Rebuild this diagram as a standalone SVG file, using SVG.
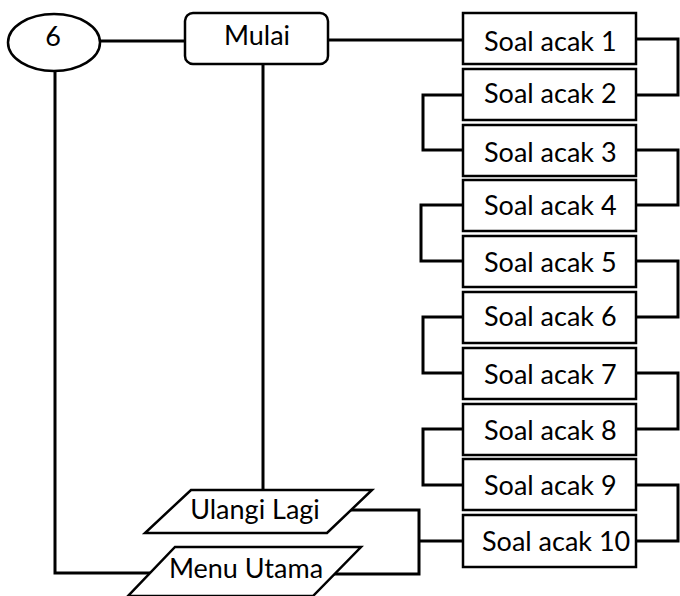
<svg xmlns="http://www.w3.org/2000/svg" width="680" height="596" viewBox="0 0 680 596">
<style>
.shape{fill:#fff;stroke:#000;stroke-width:2.5}
.conn{fill:none;stroke:#000;stroke-width:3}
.t{font-family:Lato,"Open Sans","Liberation Sans",sans-serif;font-size:27px;fill:#000}
.m{text-anchor:middle}
</style>
<rect width="680" height="596" fill="#fff"/>
<g id="connectors">
<path class="conn" d="M100,41 H185"/>
<path class="conn" d="M328,40 H463"/>
<path class="conn" d="M263,64 V490"/>
<path class="conn" d="M55,71 V573 H150"/>
<path class="conn" d="M636,39 H678 V95 H636"/>
<path class="conn" d="M636,150 H678 V205 H636"/>
<path class="conn" d="M636,261 H678 V317 H636"/>
<path class="conn" d="M636,373 H678 V429 H636"/>
<path class="conn" d="M636,485 H678 V541 H636"/>
<path class="conn" d="M463,95 H423 V150 H463"/>
<path class="conn" d="M463,205 H421 V261 H463"/>
<path class="conn" d="M463,317 H423 V373 H463"/>
<path class="conn" d="M463,429 H423 V485 H463"/>
<path class="conn" d="M351,510 H419 V574 H334"/>
<path class="conn" d="M419,541 H463"/>
</g>
<g id="n6"><ellipse class="shape" cx="54" cy="42.5" rx="46" ry="28.5"/><text class="t m" x="53" y="46">6</text></g>
<g id="mulai"><rect class="shape" x="185" y="13" width="143" height="51" rx="8"/><text class="t m" x="257" y="45">Mulai</text></g>
<g id="s1"><rect class="shape" x="463" y="13" width="173" height="51"/><text class="t" x="484" y="51">Soal acak 1</text></g>
<g id="s2"><rect class="shape" x="463" y="69" width="173" height="51"/><text class="t" x="484" y="103">Soal acak 2</text></g>
<g id="s3"><rect class="shape" x="463" y="125" width="173" height="51"/><text class="t" x="484" y="162">Soal acak 3</text></g>
<g id="s4"><rect class="shape" x="463" y="180" width="173" height="51"/><text class="t" x="484" y="215">Soal acak 4</text></g>
<g id="s5"><rect class="shape" x="463" y="236" width="173" height="51"/><text class="t" x="484" y="272">Soal acak 5</text></g>
<g id="s6"><rect class="shape" x="463" y="292" width="173" height="51"/><text class="t" x="484" y="326">Soal acak 6</text></g>
<g id="s7"><rect class="shape" x="463" y="348" width="173" height="51"/><text class="t" x="484" y="384">Soal acak 7</text></g>
<g id="s8"><rect class="shape" x="463" y="404" width="173" height="51"/><text class="t" x="484" y="440">Soal acak 8</text></g>
<g id="s9"><rect class="shape" x="463" y="459" width="173" height="51"/><text class="t" x="484" y="495">Soal acak 9</text></g>
<g id="s10"><rect class="shape" x="463" y="515" width="173" height="52"/><text class="t" x="482" y="551">Soal acak 10</text></g>
<g id="ulangi"><polygon class="shape" points="191,490 372,490 327,533 145,533"/><text class="t m" x="255" y="519">Ulangi Lagi</text></g>
<g id="menu"><polygon class="shape" points="175,547 361,547 313,596 128,596"/><text class="t m" x="246" y="578">Menu Utama</text></g>
</svg>
